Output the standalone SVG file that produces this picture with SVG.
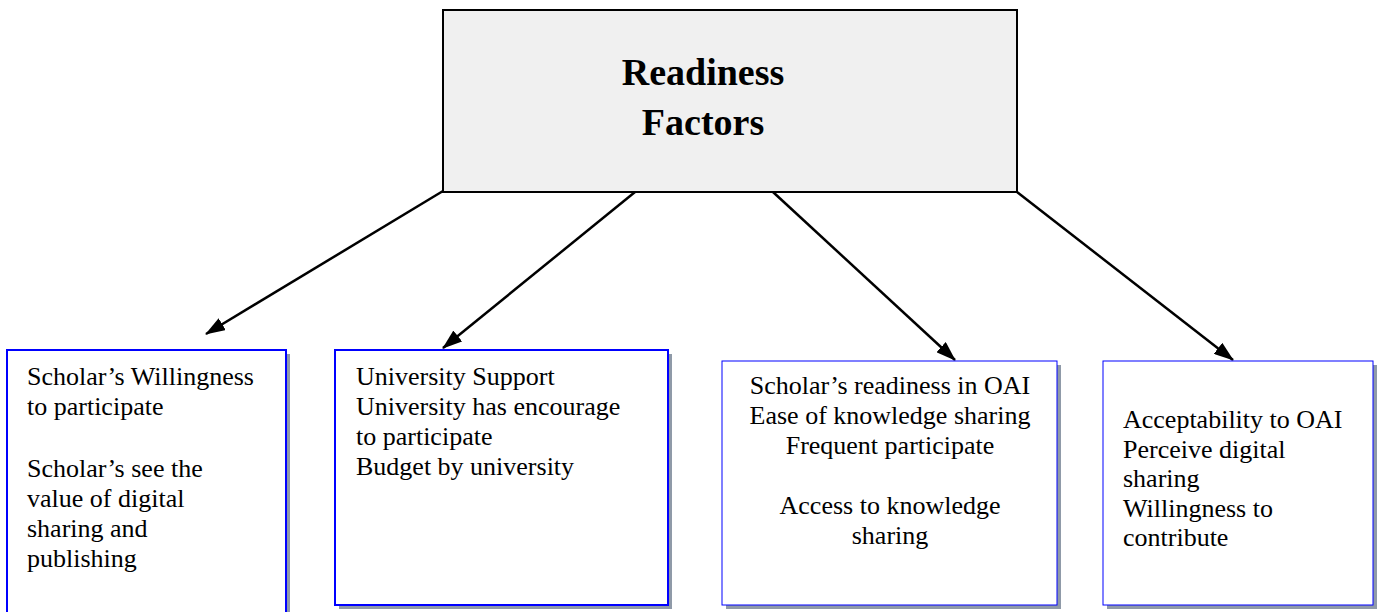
<svg xmlns="http://www.w3.org/2000/svg" width="1378" height="612" viewBox="0 0 1378 612">
<defs>
<marker id="ah" markerWidth="20" markerHeight="14" refX="19" refY="7" orient="auto" markerUnits="userSpaceOnUse">
<path d="M0,0 L20,7 L0,14 Z" fill="#000"/>
</marker>
</defs>
<style>
.t{font-family:"Liberation Serif","Times New Roman",serif;font-size:26px;fill:#000}
.title{font-family:"Liberation Serif","Times New Roman",serif;font-size:38px;font-weight:bold;fill:#000}
.sh{fill:#8f9aa8}
.bx{fill:#fff;stroke:#0000ff}
.conn{stroke:#000;stroke-width:2.5;fill:none;marker-end:url(#ah)}
</style>
<rect width="1378" height="612" fill="#fff"/>
<g id="readiness">
<rect x="443" y="10" width="574" height="182" fill="#f0f0f0" stroke="#000" stroke-width="2"/>
<text class="title" x="703" y="85" text-anchor="middle">Readiness</text>
<text class="title" x="703" y="135" text-anchor="middle">Factors</text>
</g>
<g id="connectors">
<line class="conn" x1="443" y1="191" x2="206" y2="334"/>
<line class="conn" x1="635" y1="192" x2="443" y2="348"/>
<line class="conn" x1="773" y1="192" x2="955" y2="360"/>
<line class="conn" x1="1017" y1="192" x2="1233" y2="360"/>
</g>
<g id="willingness">
<rect class="sh" x="11" y="354" width="279" height="262"/>
<rect class="bx" x="7" y="350" width="279" height="270" stroke-width="2"/>
<text class="t" x="27" y="385">Scholar’s Willingness</text>
<text class="t" x="27" y="415">to participate</text>
<text class="t" x="27" y="477">Scholar’s see the</text>
<text class="t" x="27" y="507">value of digital</text>
<text class="t" x="27" y="537">sharing and</text>
<text class="t" x="27" y="567">publishing</text>
</g>
<g id="support">
<rect class="sh" x="339" y="354" width="333" height="255"/>
<rect class="bx" x="335" y="350" width="333" height="255" stroke-width="2"/>
<text class="t" x="356" y="385">University Support</text>
<text class="t" x="356" y="415">University has encourage</text>
<text class="t" x="356" y="445">to participate</text>
<text class="t" x="356" y="475">Budget by university</text>
</g>
<g id="oai">
<rect class="sh" x="726" y="365" width="335" height="244"/>
<rect class="bx" x="722" y="361" width="335" height="244" stroke-width="1"/>
<text class="t" x="890" y="394" text-anchor="middle">Scholar’s readiness in OAI</text>
<text class="t" x="890" y="424" text-anchor="middle">Ease of knowledge sharing</text>
<text class="t" x="890" y="454" text-anchor="middle">Frequent participate</text>
<text class="t" x="890" y="514" text-anchor="middle">Access to knowledge</text>
<text class="t" x="890" y="544" text-anchor="middle">sharing</text>
</g>
<g id="acceptability">
<rect class="sh" x="1107" y="365" width="270" height="244"/>
<rect class="bx" x="1103" y="361" width="270" height="244" stroke-width="1"/>
<text class="t" x="1123" y="428">Acceptability to OAI</text>
<text class="t" x="1123" y="458">Perceive digital</text>
<text class="t" x="1123" y="487">sharing</text>
<text class="t" x="1123" y="517">Willingness to</text>
<text class="t" x="1123" y="546">contribute</text>
</g>
</svg>
